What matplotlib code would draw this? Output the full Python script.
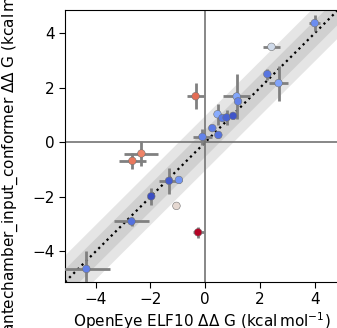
import numpy as np
import matplotlib
matplotlib.use("Agg")
import matplotlib.pyplot as plt
from matplotlib import cm, colors

# Relative free energies (kcal/mol)
exp_ddg = [4.00, 2.42, 2.27, 2.68, -0.35, 1.15, 1.20, 0.45, 0.63, 0.78, 1.02,
           0.26, 0.48, -0.10, -2.33, -2.66, -1.32, -0.96, -1.97, -1.05,
           -2.69, -0.26, -4.34]
exp_err = [0.20, 0.30, 0.10, 0.34, 0.30, 0.50, 0.10, 0.10, 0.10, 0.10, 0.10,
           0.10, 0.10, 0.35, 0.62, 0.49, 0.38, 0.10, 0.10, 0.10,
           0.64, 0.20, 0.87]
calc_ddg = [4.37, 3.50, 2.50, 2.17, 1.69, 1.68, 1.50, 1.03, 0.89, 0.91, 0.97,
            0.52, 0.27, 0.20, -0.41, -0.68, -1.41, -1.38, -1.98, -2.33,
            -2.90, -3.30, -4.64]
calc_err = [0.30, 0.08, 0.20, 0.64, 0.48, 0.84, 0.10, 0.38, 0.10, 0.26, 0.10,
            0.10, 0.10, 0.30, 0.46, 0.30, 0.48, 0.10, 0.30, 0.08,
            0.15, 0.20, 0.64]

lims = (-5.12, 4.85)

fig = plt.figure(figsize=(3.37, 3.28), dpi=100)
ax = fig.add_axes([65 / 337, 46 / 328, 273 / 337, 272 / 328])

x = np.array(exp_ddg)
y = np.array(calc_ddg)

# 0.5 and 1 kcal/mol agreement bands around the diagonal
diag = np.array(lims)
for w in (1.0, 0.5):
    ax.fill_between(diag, diag - w, diag + w, color="grey", alpha=0.2, lw=0, zorder=1)
ax.plot(diag, diag, ls=":", color="k", lw=1.6, zorder=2)

ax.axhline(0, color="0.45", lw=1.2, zorder=2)
ax.axvline(0, color="0.45", lw=1.2, zorder=2)

ax.errorbar(x, y, xerr=exp_err, yerr=calc_err, fmt="none",
            ecolor="0.5", elinewidth=2.0, capsize=0, zorder=3)

dev = np.abs(y - x)
norm = colors.Normalize(vmin=0, vmax=2.4)
ax.scatter(x, y, c=dev, cmap=cm.coolwarm, norm=norm, s=30,
           edgecolors="0.45", linewidths=0.4, zorder=4)

ax.set_xlim(lims)
ax.set_ylim(lims)
ax.set_xticks([-4, -2, 0, 2, 4])
ax.set_yticks([-4, -2, 0, 2, 4])
ax.tick_params(labelsize=11, length=4)

ax.set_xlabel(r"OpenEye ELF10 $\Delta\Delta$ G (kcal$\,$mol$^{-1}$)", fontsize=11)
ax.set_ylabel(r"antechamber_input_conformer $\Delta\Delta$ G (kcal$\,$mol$^{-1}$)",
              fontsize=11)
ax.xaxis.set_label_coords(0.5, -0.105)
ax.yaxis.set_label_coords(-0.16, 0.5)

fig.savefig("out.png", dpi=100)
